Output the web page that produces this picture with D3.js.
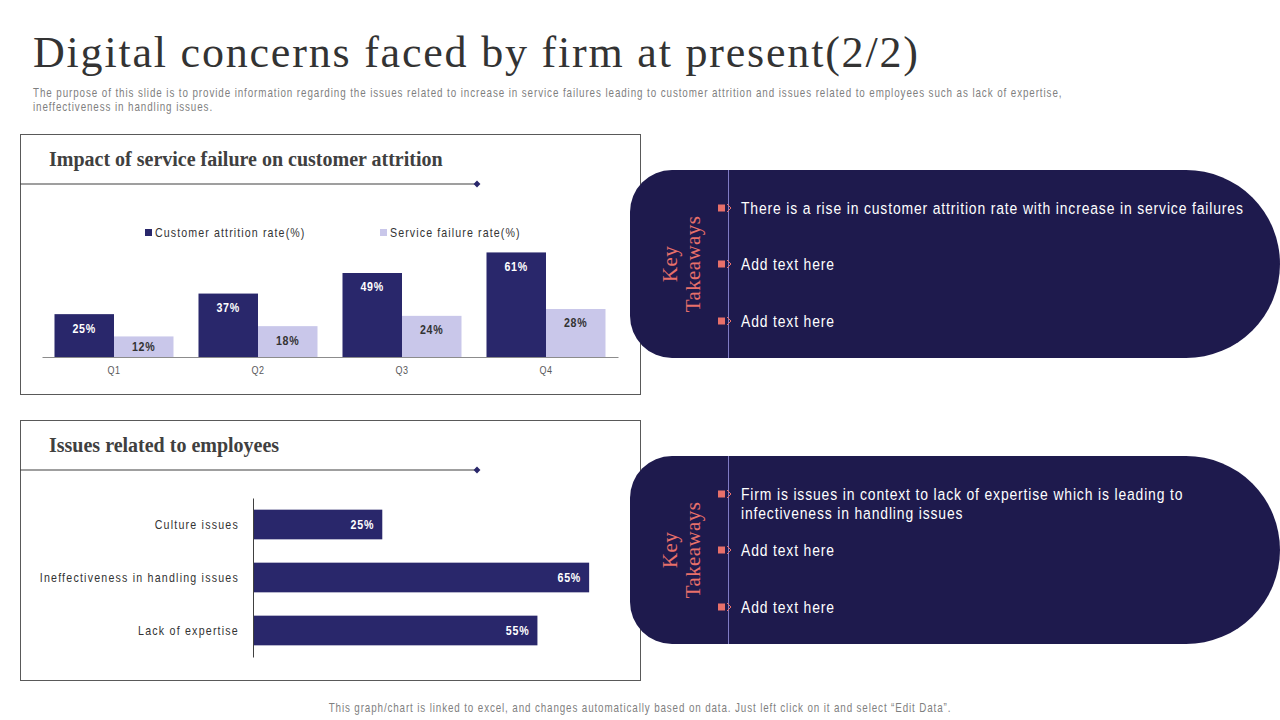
<!DOCTYPE html>
<html>
<head>
<meta charset="utf-8">
<script src="https://cdn.jsdelivr.net/npm/d3@7"></script>
<style>
  html, body { margin: 0; padding: 0; background: #fff; }
  svg { display: block; }
</style>
</head>
<body>
<svg id="chart" width="1280" height="720"></svg>
<script>
// ---------- data ----------
const quarters = ["Q1", "Q2", "Q3", "Q4"];
const attritionRate = [25, 37, 49, 61];
const failureRate = [12, 18, 24, 28];
const seriesNames = ["Customer attrition rate(%)", "Service failure rate(%)"];

const issueCategories = ["Culture issues", "Ineffectiveness in handling issues", "Lack of expertise"];
const issueValues = [25, 65, 55];

const titleText = "Digital concerns faced by firm at present(2/2)";
const subtitleLines = [
  "The purpose of this slide is to provide information regarding the issues related to increase in service failures leading to customer attrition and issues related to employees such as lack of expertise,",
  "ineffectiveness in handling issues."
];
const panelTitles = ["Impact of service failure on customer attrition", "Issues related to employees"];
const takeaways1 = [["There is a rise in customer attrition rate with increase in service failures"], ["Add text here"], ["Add text here"]];
const takeaways2 = [["Firm is issues in context to lack of expertise which is leading to", "infectiveness in handling issues"], ["Add text here"], ["Add text here"]];
const footerText = "This graph/chart is linked to excel, and changes automatically based on data. Just left click on it and select \u201cEdit Data\u201d.";

// ---------- style ----------
const C_DARK = "#29276b", C_LIGHT = "#c9c7ea", C_PILL = "#1e1a4d", C_SALMON = "#e8706a";
const SERIF = "'Liberation Serif', 'DejaVu Serif', serif";

const narrowOK = (() => {
  const c = document.createElement("canvas").getContext("2d");
  c.font = "16px 'Liberation Sans Narrow', monospace";
  const a = c.measureText("abcdefghij mmm").width;
  c.font = "16px monospace";
  const b = c.measureText("abcdefghij mmm").width;
  return Math.abs(a - b) > 0.5;
})();
const SQ = 0.82;
const NARROW = narrowOK ? "'Liberation Sans Narrow', 'Arial Narrow', sans-serif" : "'Liberation Sans', Arial, sans-serif";
function condense(sel, spacing) {
  sel.attr("font-family", NARROW);
  if (narrowOK) {
    if (spacing) sel.attr("letter-spacing", spacing);
  } else {
    sel.each(function () {
      const t = d3.select(this);
      const x = +t.attr("x") || 0;
      t.attr("x", x / SQ).attr("transform", `scale(${SQ},1)`);
      if (spacing) t.attr("letter-spacing", spacing / SQ);
    });
  }
  return sel;
}

const svg = d3.select("#chart");

// ---------- header ----------
svg.append("text").attr("x", 33).attr("y", 67)
  .attr("font-family", SERIF).attr("font-size", 44).attr("fill", "#333").attr("letter-spacing", 1.8)
  .text(titleText);

subtitleLines.forEach((l, i) => {
  svg.append("text").attr("x", 33).attr("y", 97 + i * 14)
    .attr("font-size", 12).attr("fill", "#7f7f7f").text(l).call(condense, 0.9);
});

// ---------- panels ----------
function panel(y0, title) {
  const g = svg.append("g");
  g.append("rect").attr("x", 20.5).attr("y", y0 + 0.5).attr("width", 620).attr("height", 260)
    .attr("fill", "#fff").attr("stroke", "#595959").attr("stroke-width", 1);
  g.append("text").attr("x", 49).attr("y", y0 + 32)
    .attr("font-family", SERIF).attr("font-size", 20).attr("font-weight", "bold")
    .attr("fill", "#404040").text(title);
  g.append("line").attr("x1", 20).attr("x2", 477).attr("y1", y0 + 50).attr("y2", y0 + 50)
    .attr("stroke", "#404040").attr("stroke-width", 1.2);
  g.append("path").attr("d", d3.symbol(d3.symbolDiamond2, 30)())
    .attr("transform", `translate(477,${y0 + 50})`).attr("fill", C_DARK);
  return g;
}
panel(134, panelTitles[0]);
panel(420, panelTitles[1]);

// ---------- chart 1: grouped bars ----------
const x0 = d3.scaleBand().domain(quarters).range([42, 618]).padding(0);
const x1 = d3.scaleBand().domain(seriesNames).range([0, x0.bandwidth()]).paddingInner(0).paddingOuter(0.21);
const y1 = d3.scaleLinear().domain([0, 70]).range([357, 237]);
const colors = d3.scaleOrdinal().domain(seriesNames).range([C_DARK, C_LIGHT]);
const labelColors = d3.scaleOrdinal().domain(seriesNames).range(["#fff", "#333"]);

const groups = svg.append("g").selectAll("g").data(quarters).join("g")
  .attr("transform", d => `translate(${x0(d)},0)`);
groups.each(function (q, i) {
  const vals = [attritionRate[i], failureRate[i]];
  const g = d3.select(this);
  seriesNames.forEach((s, j) => {
    const v = vals[j];
    const top = y1(v), h = y1(0) - top;
    g.append("rect").attr("x", x1(s)).attr("y", top).attr("width", x1.bandwidth()).attr("height", h)
      .attr("fill", colors(s));
    g.append("text").attr("x", x1(s) + x1.bandwidth() / 2).attr("y", top + Math.min(14, h / 2) + 4.5)
      .attr("text-anchor", "middle").attr("font-size", 13).attr("font-weight", "bold")
      .attr("fill", labelColors(s)).text(v + "%").call(condense, 0.8);
  });
});

const xAxis = svg.append("g").attr("transform", "translate(0,357)")
  .call(d3.axisBottom(x0).tickSize(0).tickSizeOuter(0).tickPadding(9));
xAxis.select(".domain").attr("stroke", "#8c8c8c");
xAxis.selectAll("text").attr("font-size", 11).attr("fill", "#595959").call(condense, 0.6);

// legend
const legendX = [145, 380];
seriesNames.forEach((s, j) => {
  svg.append("rect").attr("x", legendX[j]).attr("y", 229).attr("width", 7).attr("height", 7).attr("fill", colors(s));
  svg.append("text").attr("x", legendX[j] + 10).attr("y", 237)
    .attr("font-size", 13).attr("fill", "#333").text(s).call(condense, 1.1);
});

// ---------- chart 2: horizontal bars ----------
const yB = d3.scaleBand().domain(issueCategories).range([498, 657]).paddingInner(0.44).paddingOuter(0.22);
const xB = d3.scaleLinear().domain([0, 70]).range([253, 615]);

svg.append("g").selectAll("rect").data(issueCategories).join("rect")
  .attr("x", xB(0)).attr("y", d => yB(d))
  .attr("width", (d, i) => xB(issueValues[i]) - xB(0)).attr("height", yB.bandwidth())
  .attr("fill", C_DARK);
svg.append("g").selectAll("text").data(issueCategories).join("text")
  .attr("x", (d, i) => xB(issueValues[i]) - 8).attr("y", d => yB(d) + yB.bandwidth() / 2 + 4.5)
  .attr("text-anchor", "end").attr("font-size", 13).attr("font-weight", "bold").attr("fill", "#fff")
  .text((d, i) => issueValues[i] + "%").call(condense, 0.8);

const yAxis = svg.append("g").attr("transform", "translate(253,0)")
  .call(d3.axisLeft(yB).tickSize(0).tickSizeOuter(0).tickPadding(14));
yAxis.select(".domain").attr("stroke", "#404040");
yAxis.selectAll("text").attr("font-size", 13).attr("fill", "#333").call(condense, 1.2);

// ---------- key takeaway pills ----------
function pill(y0, h, items, itemYs) {
  const x0p = 630, rx = 42, ry = 42, r = h / 2, xr = 1280 - r;
  const d = `M${x0p + rx},${y0} L${xr},${y0} A${r},${r} 0 0 1 ${xr},${y0 + h} L${x0p + rx},${y0 + h}
    A${rx},${ry} 0 0 1 ${x0p},${y0 + h - ry} L${x0p},${y0 + ry} A${rx},${ry} 0 0 1 ${x0p + rx},${y0} Z`;
  const g = svg.append("g");
  g.append("path").attr("d", d).attr("fill", C_PILL);
  g.append("line").attr("x1", 728.5).attr("x2", 728.5).attr("y1", y0).attr("y2", y0 + h)
    .attr("stroke", "#7f7bc4").attr("stroke-width", 1);
  const cy = y0 + h / 2;
  const kt = g.append("text").attr("transform", `translate(0,${cy}) rotate(-90)`)
    .attr("font-family", SERIF).attr("font-size", 21).attr("fill", C_SALMON).attr("text-anchor", "middle")
    .attr("letter-spacing", 0.4);
  kt.append("tspan").attr("x", 0).attr("y", 677).text("Key");
  kt.append("tspan").attr("x", 0).attr("y", 700).text("Takeaways");
  items.forEach((lines, i) => {
    const by = itemYs[i];
    g.append("rect").attr("x", 718).attr("y", by - 3.5).attr("width", 7).attr("height", 7).attr("fill", C_SALMON);
    g.append("path").attr("d", `M727,${by - 4} L731,${by} L727,${by + 4}`)
      .attr("fill", "none").attr("stroke", C_SALMON).attr("stroke-width", 1);
    lines.forEach((l, k) => {
      g.append("text").attr("x", 741).attr("y", by + 6 + k * 19)
        .attr("font-size", 17).attr("fill", "#fff").text(l).call(condense, 0.85);
    });
  });
}
pill(170, 188, takeaways1, [208, 264, 321]);
pill(456, 188, takeaways2, [494, 550, 607]);

// ---------- footer ----------
svg.append("text").attr("x", 640).attr("y", 712).attr("text-anchor", "middle")
  .attr("font-size", 12).attr("fill", "#7f7f7f").text(footerText).call(condense, 0.87);
</script>
</body>
</html>
